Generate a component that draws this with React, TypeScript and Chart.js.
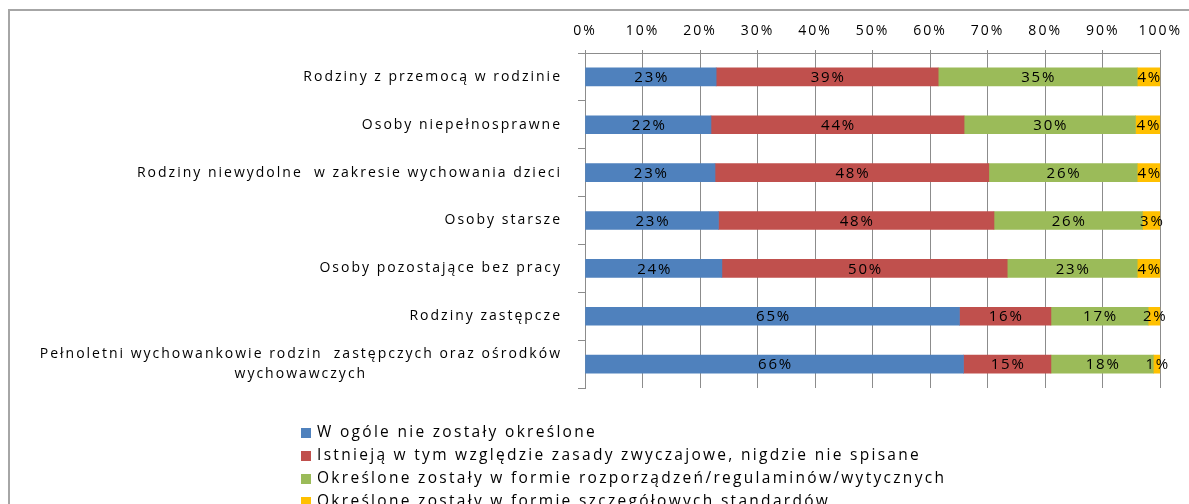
import { useEffect, useRef } from 'react';
import { Chart, registerables } from 'chart.js';

Chart.register(...registerables);

const categories: (string | string[])[] = [
  'Rodziny z przemocą w rodzinie',
  'Osoby niepełnosprawne',
  'Rodziny niewydolne  w zakresie wychowania dzieci',
  'Osoby starsze',
  'Osoby pozostające bez pracy',
  'Rodziny zastępcze',
  ['Pełnoletni wychowankowie rodzin  zastępczych oraz ośrodków', 'wychowawczych'],
];

const seriesNames = [
  'W ogóle nie zostały określone',
  'Istnieją w tym względzie zasady zwyczajowe, nigdzie nie spisane',
  'Określone zostały w formie rozporządzeń/regulaminów/wytycznych',
  'Określone zostały w formie szczegółowych standardów',
];

const notDefined = [22.8, 21.9, 22.6, 23.2, 23.8, 65.1, 65.8];
const customary = [38.6, 44.0, 47.6, 47.9, 49.6, 15.9, 15.2];
const regulations = [34.6, 29.8, 25.8, 25.8, 22.6, 16.9, 17.8];
const standards = [4.0, 4.3, 4.0, 3.1, 4.0, 2.1, 1.2];

const xTicks = [0, 10, 20, 30, 40, 50, 60, 70, 80, 90, 100];

const COLORS = ['#4F81BD', '#C0504D', '#9BBB59', '#FFC000'];
const GRID = '#8c8c8c';
const FONT = '"Open Sans", sans-serif';
const LS_TICK = '2px';
const LS_CAT = '2px';
const LS_DATA = '1.8px';
const LS_LEG = '2.3px';

const customPlugin = {
  id: 'customText',
  beforeDraw(chart: any) {
    chart.ctx.letterSpacing = LS_TICK;
  },
  afterDatasetsDraw(chart: any) {
    const ctx = chart.ctx;
    ctx.save();
    ctx.letterSpacing = LS_DATA;
    ctx.font = `15px ${FONT}`;
    ctx.fillStyle = '#000';
    ctx.textAlign = 'center';
    ctx.textBaseline = 'middle';
    chart.data.datasets.forEach((ds: any, di: number) => {
      const meta = chart.getDatasetMeta(di);
      meta.data.forEach((el: any, i: number) => {
        const v = ds.data[i] as number;
        const p = el.getProps(['x', 'y', 'base'], true);
        ctx.fillText(Math.round(v) + '%', (p.x + p.base) / 2 + 1, p.y + 1);
      });
    });
    ctx.restore();
  },
  afterDraw(chart: any) {
    const ctx = chart.ctx;
    const yScale = chart.scales.y;
    const area = chart.chartArea;
    // category labels
    ctx.save();
    ctx.letterSpacing = LS_CAT;
    ctx.font = `14px ${FONT}`;
    ctx.fillStyle = '#000';
    ctx.textAlign = 'center';
    ctx.textBaseline = 'middle';
    const rightEdge = area.left - 23;
    const lh = 20;
    chart.data.labels.forEach((lab: any, i: number) => {
      const lines: string[] = Array.isArray(lab) ? lab : [lab];
      const maxW = Math.max(...lines.map((l) => ctx.measureText(l).width));
      const cx = rightEdge - maxW / 2;
      const cy = yScale.getPixelForValue(i);
      const startY = cy - ((lines.length - 1) * lh) / 2;
      lines.forEach((l, k) => ctx.fillText(l, cx, startY + k * lh));
    });
    ctx.restore();

    // legend
    ctx.save();
    ctx.letterSpacing = LS_LEG;
    ctx.font = `15.5px ${FONT}`;
    ctx.textAlign = 'left';
    ctx.textBaseline = 'middle';
    chart.data.datasets.forEach((ds: any, i: number) => {
      const y = area.bottom + 45 + i * 23;
      ctx.fillStyle = ds.backgroundColor;
      ctx.fillRect(301, y - 5, 10, 10);
      ctx.fillStyle = '#000';
      ctx.fillText(ds.label, 317, y);
    });
    ctx.restore();
  },
};

export default function App() {
  const ref = useRef<HTMLCanvasElement>(null);

  useEffect(() => {
    if (!ref.current) return;
    const series = [notDefined, customary, regulations, standards];
    const chart = new Chart(ref.current, {
      type: 'bar',
      data: {
        labels: categories,
        datasets: series.map((d, i) => ({
          label: seriesNames[i],
          data: d,
          backgroundColor: COLORS[i],
          borderWidth: 0,
          barThickness: 18,
        })),
      },
      options: {
        responsive: false,
        animation: false,
        indexAxis: 'y',
        layout: { padding: { left: 0, right: 26, top: 0, bottom: 116 } },
        plugins: {
          legend: { display: false },
          tooltip: { enabled: false },
        },
        scales: {
          x: {
            position: 'top',
            stacked: true,
            min: 0,
            max: 100,
            afterBuildTicks: (s: any) => {
              s.ticks = xTicks.map((v) => ({ value: v }));
            },
            ticks: {
              callback: (v: any) => v + '%',
              font: { family: FONT, size: 14 },
              color: '#000',
              padding: 11,
              maxRotation: 0,
              autoSkip: false,
            },
            grid: { color: GRID, lineWidth: 1, tickLength: 3 },
            border: { color: GRID, width: 1 },
            afterFit: (s: any) => {
              s.height = 53;
            },
          },
          y: {
            stacked: true,
            ticks: { display: false },
            grid: { offset: true, drawOnChartArea: false, tickLength: 7, color: GRID },
            border: { color: GRID, width: 1 },
            afterFit: (s: any) => {
              s.width = 585;
            },
          },
        },
      },
      plugins: [customPlugin],
    } as any);
    return () => chart.destroy();
  }, []);

  return (
    <div style={{ position: 'relative', width: 1189, height: 504, overflow: 'hidden', background: '#fff' }}>
      <style>{'body{margin:0;overflow:hidden}'}</style>
      <div
        style={{
          position: 'absolute',
          left: 8,
          top: 9,
          width: 1300,
          height: 700,
          border: '2px solid #a6a6a6',
          boxSizing: 'border-box',
        }}
      />
      <canvas
        ref={ref}
        width={1189}
        height={504}
        style={{ position: 'absolute', left: 0, top: 0, width: 1189, height: 504 }}
      />
    </div>
  );
}
